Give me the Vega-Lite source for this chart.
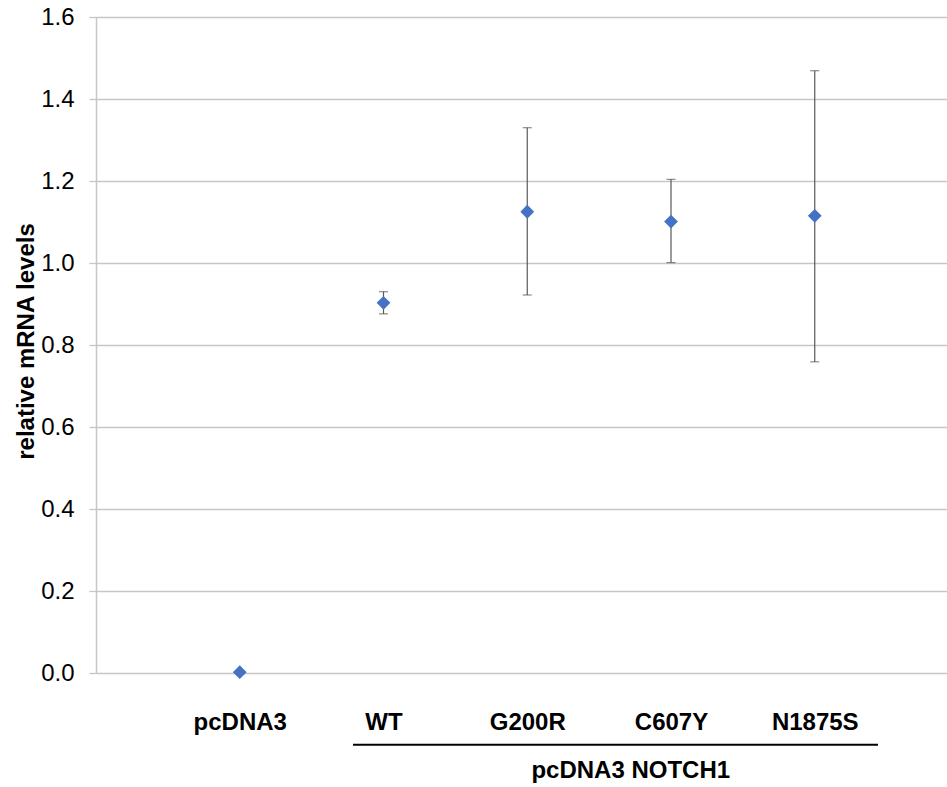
{
  "$schema": "https://vega.github.io/schema/vega-lite/v6.json",
  "autosize": "none",
  "padding": {"left": 96, "top": 17, "right": 0, "bottom": 114},
  "width": 851,
  "height": 656,
  "background": "white",
  "config": {
    "view": {"stroke": null},
    "font": "Liberation Sans"
  },
  "datasets": {
    "main": [
      {"pos": 1, "sample": "pcDNA3", "mean": 0.002, "lo": null, "hi": null},
      {"pos": 2, "sample": "WT", "mean": 0.903, "lo": 0.876, "hi": 0.930},
      {"pos": 3, "sample": "G200R", "mean": 1.125, "lo": 0.922, "hi": 1.330},
      {"pos": 4, "sample": "C607Y", "mean": 1.101, "lo": 1.001, "hi": 1.204},
      {"pos": 5, "sample": "N1875S", "mean": 1.115, "lo": 0.759, "hi": 1.469}
    ],
    "group": [
      {"x1": 1.788, "x2": 5.44, "y": -0.175, "label": "pcDNA3 NOTCH1", "xc": 3.72, "yl": -0.2395}
    ]
  },
  "layer": [
    {
      "data": {"name": "main"},
      "mark": {"type": "rule", "color": "#595959", "strokeWidth": 1.2},
      "transform": [{"filter": "datum.lo != null"}],
      "encoding": {
        "x": {
          "field": "pos", "type": "quantitative",
          "scale": {"domain": [0, 5.92], "nice": false, "zero": false},
          "axis": {
            "values": [1, 2, 3, 4, 5],
            "labelExpr": "['','pcDNA3','WT','G200R','C607Y','N1875S'][datum.value]",
            "title": null, "grid": false, "ticks": false, "domain": false,
            "labelFont": "Liberation Sans", "labelFontSize": 24, "labelFontWeight": "bold",
            "labelColor": "#000000", "labelPadding": 56, "labelBaseline": "alphabetic"
          }
        },
        "y": {
          "field": "lo", "type": "quantitative",
          "scale": {"domain": [0, 1.6], "nice": false},
          "axis": {
            "values": [0, 0.2, 0.4, 0.6, 0.8, 1.0, 1.2, 1.4, 1.6],
            "format": ".1f",
            "title": "relative mRNA levels",
            "titleFont": "Liberation Sans", "titleFontSize": 24, "titleFontWeight": "bold",
            "titleColor": "#000000",
            "titleX": -63, "titleY": 324, "titleBaseline": "alphabetic",
            "labelFont": "Liberation Sans", "labelFontSize": 24, "labelColor": "#000000",
            "labelPadding": 15,
            "grid": true, "gridColor": "#c6c6c6", "gridWidth": 1.3,
            "tickColor": "#c6c6c6", "tickSize": 7, "tickWidth": 1.3,
            "domainColor": "#c6c6c6", "domainWidth": 1.5
          }
        },
        "y2": {"field": "hi"}
      }
    },
    {
      "data": {"name": "main"},
      "transform": [{"filter": "datum.lo != null"}],
      "mark": {"type": "tick", "orient": "horizontal", "color": "#595959", "size": 9, "thickness": 1.2},
      "encoding": {
        "x": {"field": "pos", "type": "quantitative"},
        "y": {"field": "lo", "type": "quantitative"}
      }
    },
    {
      "data": {"name": "main"},
      "transform": [{"filter": "datum.lo != null"}],
      "mark": {"type": "tick", "orient": "horizontal", "color": "#595959", "size": 9, "thickness": 1.2},
      "encoding": {
        "x": {"field": "pos", "type": "quantitative"},
        "y": {"field": "hi", "type": "quantitative"}
      }
    },
    {
      "data": {"name": "main"},
      "mark": {"type": "point", "shape": "diamond", "filled": true, "color": "#4472C4", "size": 190, "opacity": 1},
      "encoding": {
        "x": {"field": "pos", "type": "quantitative"},
        "y": {"field": "mean", "type": "quantitative"}
      }
    },
    {
      "data": {"name": "group"},
      "mark": {"type": "rule", "color": "#000000", "strokeWidth": 2.2, "clip": false},
      "encoding": {
        "x": {"field": "x1", "type": "quantitative"},
        "x2": {"field": "x2"},
        "y": {"field": "y", "type": "quantitative"}
      }
    },
    {
      "data": {"name": "group"},
      "mark": {"type": "text", "font": "Liberation Sans", "fontSize": 24, "fontWeight": "bold", "color": "#000000", "align": "center", "baseline": "middle", "clip": false},
      "encoding": {
        "x": {"field": "xc", "type": "quantitative"},
        "y": {"field": "yl", "type": "quantitative"},
        "text": {"field": "label"}
      }
    }
  ]
}
